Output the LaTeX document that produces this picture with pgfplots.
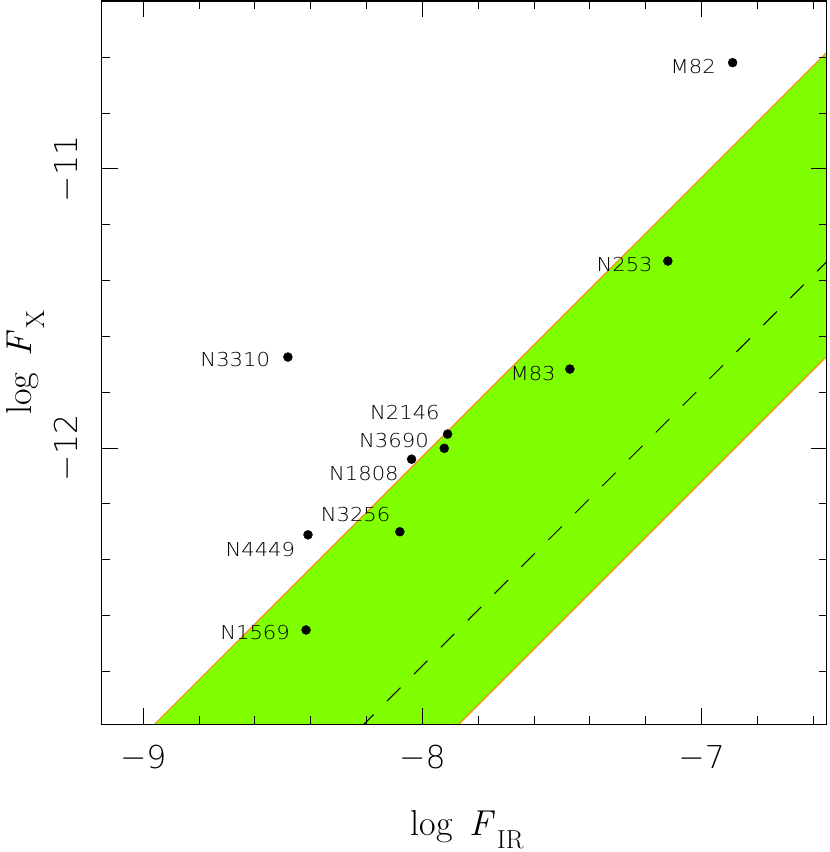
\documentclass[border=0pt]{standalone}
\usepackage{fontspec}
\usepackage{pgfplots}
\pgfplotsset{compat=1.18}
\newfontfamily\labfont[FakeStretch=1.1]{DejaVu Sans ExtraLight}
\newfontfamily\tickfont{DejaVu Sans ExtraLight}
\definecolor{bandgreen}{HTML}{80FF00}
\definecolor{edgeorange}{HTML}{FF8000}
\newcommand{\axlab}[1]{{\fontsize{36}{40}\selectfont log\hspace{0.45em}\textit{F}\kern0.06em\raisebox{-13pt}{\fontsize{26}{28}\selectfont #1}}}
\begin{document}
\begin{tikzpicture}
\begin{axis}[
  scale only axis, width=725pt, height=723.3pt,
  xmin=-9.149, xmax=-6.552, ymin=-12.99, ymax=-10.398,
  axis line style={line width=1.1pt},
  xtick={-9,-8,-7}, xticklabels={−9,−8,−7},
  ytick={-12,-11}, yticklabels={−12,−11},
  minor xtick={-8.8,-8.6,-8.4,-8.2,-7.8,-7.6,-7.4,-7.2,-6.8,-6.6},
  minor ytick={-10.6,-10.8,-11.2,-11.4,-11.6,-11.8,-12.2,-12.4,-12.6,-12.8},
  tick align=inside, major tick length=16pt, minor tick length=8pt,
  every tick/.append style={black, line width=1pt},
  ticklabel style={font=\tickfont\fontsize{31.5}{36}\selectfont, inner sep=0pt},
  xticklabel style={anchor=north},
  xticklabel shift=20.7pt,
  yticklabel style={rotate=90, anchor=south},
  yticklabel shift=23.7pt,
  clip=true,
  axis on top,
]
\addplot[fill=bandgreen, draw=none] coordinates {(-9.3,-13.33) (-6.4,-10.43) (-6.4,-11.52) (-9.3,-14.42)} -- cycle;
\addplot[edgeorange, line width=1pt] coordinates {(-9.3,-13.33) (-6.4,-10.43)};
\addplot[edgeorange, line width=1pt] coordinates {(-9.3,-14.42) (-6.4,-11.52)};
\addplot[black, line width=1pt, dash pattern=on 19pt off 19pt] coordinates {(-8.223,-13.003) (-6.4,-11.18)};
\addplot[only marks, mark=*, mark size=4.5pt, black] coordinates {
  (-6.889,-10.619) (-7.121,-11.330) (-7.472,-11.717) (-8.482,-11.674)
  (-7.910,-11.950) (-7.922,-12.001) (-8.039,-12.040) (-8.081,-12.300)
  (-8.410,-12.311) (-8.417,-12.652)};
\begin{scope}[every node/.style={anchor=east, inner sep=0pt, font=\labfont\fontsize{19.2}{22}\selectfont}]
\node[xshift=-16.7pt, yshift=-4pt] at (axis cs:-6.889,-10.619) {M82};
\node[xshift=-15pt, yshift=-3.3pt] at (axis cs:-7.121,-11.330) {N253};
\node[xshift=-14pt, yshift=-4pt] at (axis cs:-7.472,-11.717) {M83};
\node[xshift=-17.7pt, yshift=-2.7pt] at (axis cs:-8.482,-11.674) {N3310};
\node[xshift=-7.7pt, yshift=22pt] at (axis cs:-7.910,-11.950) {N2146};
\node[xshift=-15.3pt, yshift=7.6pt] at (axis cs:-7.922,-12.001) {N3690};
\node[xshift=-12.7pt, yshift=-14.7pt] at (axis cs:-8.039,-12.040) {N1808};
\node[xshift=-9.3pt, yshift=17.7pt] at (axis cs:-8.081,-12.300) {N3256};
\node[xshift=-12.7pt, yshift=-14.7pt] at (axis cs:-8.410,-12.311) {N4449};
\node[xshift=-16pt, yshift=-3pt] at (axis cs:-8.417,-12.652) {N1569};
\end{scope}
\end{axis}
\node[rotate=90, anchor=base] at ([xshift=-70.5pt]current axis.west) {\axlab{X}};
\node[anchor=base] at ([xshift=3pt, yshift=-110.7pt]current axis.south) {\axlab{IR}};
\pgfresetboundingbox
\path ([shift={(-101.7pt,-127.7pt)}]current axis.south west) rectangle ([shift={(3.3pt,1pt)}]current axis.north east);
\end{tikzpicture}
\end{document}
